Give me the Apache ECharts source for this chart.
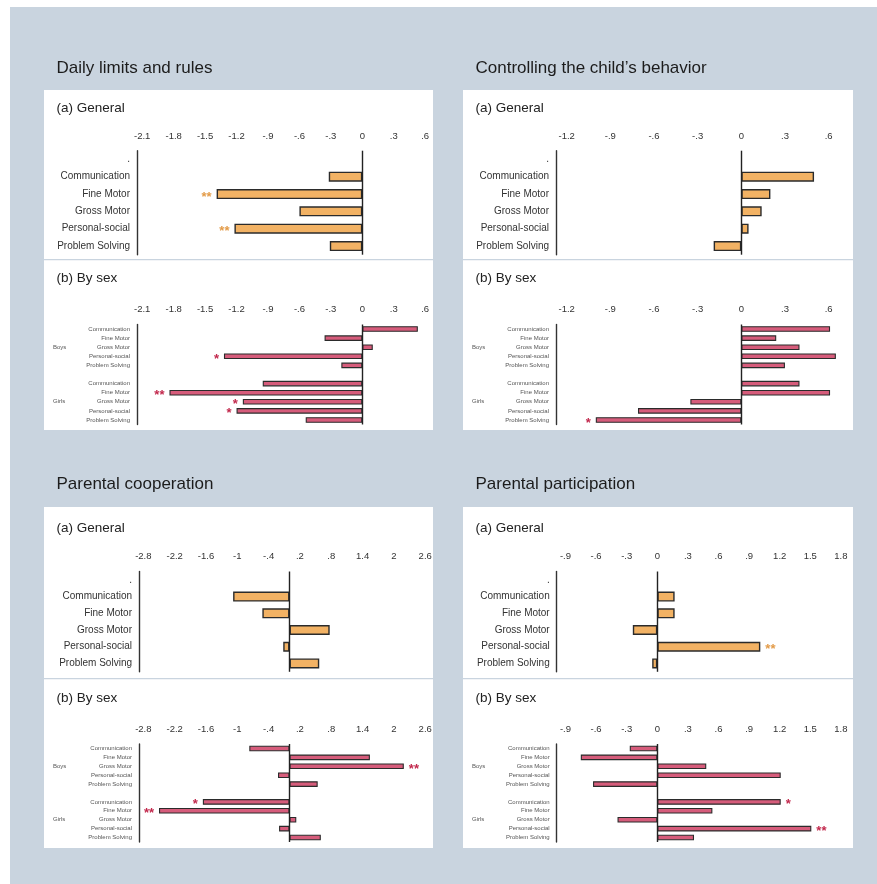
<!DOCTYPE html>
<html>
<head>
<meta charset="utf-8">
<script src="https://cdn.jsdelivr.net/npm/echarts@6/dist/echarts.min.js"></script>
<style>
  html, body { margin: 0; padding: 0; background: #ffffff; }
  #chart { width: 877px; height: 884px; }
</style>
</head>
<body>
<div id="chart"></div>
<script>
// ---- Data -------------------------------------------------------------
const categories = ['Communication', 'Fine Motor', 'Gross Motor', 'Personal-social', 'Problem Solving'];
const groups = ['Boys', 'Girls'];

// Daily limits and rules
const limitsTicks = [-2.1, -1.8, -1.5, -1.2, -0.9, -0.6, -0.3, 0, 0.3, 0.6];
const limitsGeneral = [-0.32, -1.39, -0.60, -1.22, -0.31];
const limitsGeneralSig = ['', '**', '', '**', ''];
const limitsBoys = [0.53, -0.36, 0.10, -1.32, -0.20];
const limitsBoysSig = ['', '', '', '*', ''];
const limitsGirls = [-0.95, -1.84, -1.14, -1.20, -0.54];
const limitsGirlsSig = ['', '**', '*', '*', ''];

// Controlling the child's behavior
const controlTicks = [-1.2, -0.9, -0.6, -0.3, 0, 0.3, 0.6];
const controlGeneral = [0.50, 0.20, 0.14, 0.05, -0.19];
const controlGeneralSig = ['', '', '', '', ''];
const controlBoys = [0.61, 0.24, 0.40, 0.65, 0.30];
const controlBoysSig = ['', '', '', '', ''];
const controlGirls = [0.40, 0.61, -0.35, -0.71, -1.00];
const controlGirlsSig = ['', '', '', '', '*'];

// Parental cooperation
const coopTicks = [-2.8, -2.2, -1.6, -1, -0.4, 0.2, 0.8, 1.4, 2, 2.6];
const coopGeneral = [-1.08, -0.52, 0.77, -0.12, 0.57];
const coopGeneralSig = ['', '', '', '', ''];
const coopBoys = [-0.77, 1.54, 2.19, -0.22, 0.54];
const coopBoysSig = ['', '', '**', '', ''];
const coopGirls = [-1.66, -2.50, 0.13, -0.20, 0.60];
const coopGirlsSig = ['*', '**', '', '', ''];

// Parental participation
const partTicks = [-0.9, -0.6, -0.3, 0, 0.3, 0.6, 0.9, 1.2, 1.5, 1.8];
const partGeneral = [0.17, 0.17, -0.24, 1.01, -0.05];
const partGeneralSig = ['', '', '', '**', ''];
const partBoys = [-0.27, -0.75, 0.48, 1.21, -0.63];
const partBoysSig = ['', '', '', '', ''];
const partGirls = [1.21, 0.54, -0.39, 1.51, 0.36];
const partGirlsSig = ['*', '', '', '**', ''];

const panelTitles = ['Daily limits and rules', 'Controlling the child\u2019s behavior', 'Parental cooperation', 'Parental participation'];

// ---- Panel assembly -----------------------------------------------------
const panelData = [
  { ticks: limitsTicks, general: limitsGeneral, gSig: limitsGeneralSig, boys: limitsBoys, bSig: limitsBoysSig, girls: limitsGirls, girlSig: limitsGirlsSig },
  { ticks: controlTicks, general: controlGeneral, gSig: controlGeneralSig, boys: controlBoys, bSig: controlBoysSig, girls: controlGirls, girlSig: controlGirlsSig },
  { ticks: coopTicks, general: coopGeneral, gSig: coopGeneralSig, boys: coopBoys, bSig: coopBoysSig, girls: coopGirls, girlSig: coopGirlsSig },
  { ticks: partTicks, general: partGeneral, gSig: partGeneralSig, boys: partBoys, bSig: partBoysSig, girls: partGirls, girlSig: partGirlsSig }
];

// Page layout (pixels): white box, plot edges, zero position and scale
const layout = [
  { box: [44, 90, 389, 340], left: 137, right: 432, zero: 362.3, ppu: 104.8, aTop: 150.7, aH: 104, bTop: 324.5, bH: 100, sep: 259, aMargin: 9, bMargin: 10, titleY: 68, aY: 108, bY: 278 },
  { box: [463, 90, 390, 340], left: 556, right: 852, zero: 741.3, ppu: 145.5, aTop: 150.7, aH: 104, bTop: 324.5, bH: 100, sep: 259, aMargin: 9, bMargin: 10, titleY: 68, aY: 108, bY: 278 },
  { box: [44, 507, 389, 341], left: 139, right: 432, zero: 289.5, ppu: 52.2, aTop: 571.5, aH: 100.3, bTop: 744, bH: 98, sep: 678, aMargin: 10, bMargin: 9.5, titleY: 484, aY: 528, bY: 698 },
  { box: [463, 507, 390, 341], left: 556.7, right: 852, zero: 657.3, ppu: 102, aTop: 571.5, aH: 100.3, bTop: 744, bH: 98, sep: 678, aMargin: 10, bMargin: 9.5, titleY: 484, aY: 528, bY: 698 }
];

const FONT = '"Liberation Sans", Arial, Helvetica, sans-serif';
const BG = '#c9d4df';
const ORANGE = '#f2b264';
const PINK = '#d65c7b';
const ORANGE_STAR = '#e39b48';
const RED_STAR = '#c2284c';

function tickText(v) {
  let s = String(Math.round(v * 10) / 10);
  return s.replace(/^(-?)0\./, '$1.');
}

// Category lists for the two sections
const generalCats = ['.'].concat(categories);
const bySexCats = [];
const bySexGroupLabels = [];
groups.forEach((g, gi) => {
  if (gi > 0) { bySexCats.push(''); bySexGroupLabels.push(''); }
  categories.forEach((c, ci) => {
    bySexCats.push(c + '\u200b'.repeat(gi));
    bySexGroupLabels.push(ci === 2 ? g : '');
  });
});

const grids = [], xAxes = [], yAxes = [], series = [], graphics = [];

graphics.push({ type: 'rect', shape: { x: 10, y: 7, width: 867, height: 877 }, style: { fill: BG }, silent: true, z: -10 });

function barItems(values) {
  return values.map(v => v === null ? null : { value: v, label: { position: v < 0 ? 'left' : 'right' } });
}

layout.forEach((L, p) => {
  const D = panelData[p];
  const [bx, by, bw, bh] = L.box;
  graphics.push({ type: 'rect', shape: { x: bx, y: by, width: bw, height: bh }, style: { fill: '#ffffff' }, silent: true, z: -9 });
  graphics.push({ type: 'rect', shape: { x: bx, y: L.sep, width: bw, height: 1.2 }, style: { fill: BG }, silent: true, z: -8 });
  graphics.push({ type: 'text', x: bx + 12.5, y: L.titleY, style: { text: panelTitles[p], font: '17px ' + FONT, fill: '#1c1c1c', textVerticalAlign: 'middle' }, silent: true });
  graphics.push({ type: 'text', x: bx + 12.5, y: L.aY, style: { text: '(a) General', font: '13.5px ' + FONT, fill: '#222', textVerticalAlign: 'middle' }, silent: true });
  graphics.push({ type: 'text', x: bx + 12.5, y: L.bY, style: { text: '(b) By sex', font: '13.5px ' + FONT, fill: '#222', textVerticalAlign: 'middle' }, silent: true });

  const min = (L.left - L.zero) / L.ppu;
  const max = (L.right - L.zero) / L.ppu;

  const sections = [
    { top: L.aTop, h: L.aH, margin: L.aMargin, cats: generalCats, values: [null].concat(D.general), sig: [''].concat(D.gSig),
      color: ORANGE, star: ORANGE_STAR, barW: 10, border: 1.4, catFont: 10, catColor: '#333' },
    { top: L.bTop, h: L.bH, margin: L.bMargin, cats: bySexCats, values: D.boys.concat([null], D.girls), sig: D.bSig.concat([''], D.girlSig),
      color: PINK, star: RED_STAR, barW: 5.6, border: 1.1, catFont: 6, catColor: '#555', groupLabels: bySexGroupLabels }
  ];

  sections.forEach(S => {
    const gi = grids.length;
    grids.push({ left: L.left, top: S.top, width: L.right - L.left, height: S.h, containLabel: false, outerBoundsMode: 'none' });
    xAxes.push({
      type: 'value', gridIndex: gi, position: 'top', min: min, max: max,
      axisLine: { show: false }, axisTick: { show: false }, splitLine: { show: false },
      axisLabel: { customValues: D.ticks, formatter: tickText, fontSize: 9.5, color: '#333', fontFamily: FONT, margin: S.margin, hideOverlap: false }
    });
    const yi = yAxes.length;
    yAxes.push({
      type: 'category', gridIndex: gi, inverse: true, data: S.cats,
      axisLine: { show: true, onZero: false, lineStyle: { color: '#333', width: 1.4 } },
      axisTick: { show: false }, splitLine: { show: false },
      axisLabel: { fontSize: S.catFont, color: S.catColor, fontFamily: FONT, margin: 7, interval: 0,
        formatter: v => v.replace(/\u200b/g, '') }
    });
    if (S.groupLabels) {
      // Group names sit in their own axis column at the left edge of the box
      yAxes.push({
        type: 'category', gridIndex: gi, inverse: true, position: 'left', offset: L.left - (bx + 9),
        data: S.groupLabels.map((g, i) => g + '\u200b'.repeat(i)),
        axisLine: { show: false }, axisTick: { show: false }, splitLine: { show: false },
        axisLabel: { fontSize: 6, color: '#555', fontFamily: FONT, align: 'left', margin: 0, interval: 0,
          formatter: v => v.replace(/\u200b/g, '') }
      });
    }
    series.push({
      type: 'bar', xAxisIndex: gi, yAxisIndex: yi, data: barItems(S.values),
      barWidth: S.barW, animation: false, silent: true,
      itemStyle: { color: S.color, borderColor: '#2b2b2b', borderWidth: S.border },
      label: { show: true, distance: 5, offset: [0, 3], color: S.star, fontSize: 13, fontWeight: 'bold', fontFamily: FONT,
        formatter: prm => S.sig[prm.dataIndex] || '' },
      markLine: { silent: true, symbol: 'none', animation: false, label: { show: false },
        lineStyle: { color: '#222', width: 1.4, type: 'solid' }, data: [{ xAxis: 0 }] }
    });
  });
});

const chart = echarts.init(document.getElementById('chart'), null, { renderer: 'canvas' });
chart.setOption({
  backgroundColor: '#ffffff',
  animation: false,
  grid: grids,
  xAxis: xAxes,
  yAxis: yAxes,
  series: series,
  graphic: graphics
});
</script>
</body>
</html>
